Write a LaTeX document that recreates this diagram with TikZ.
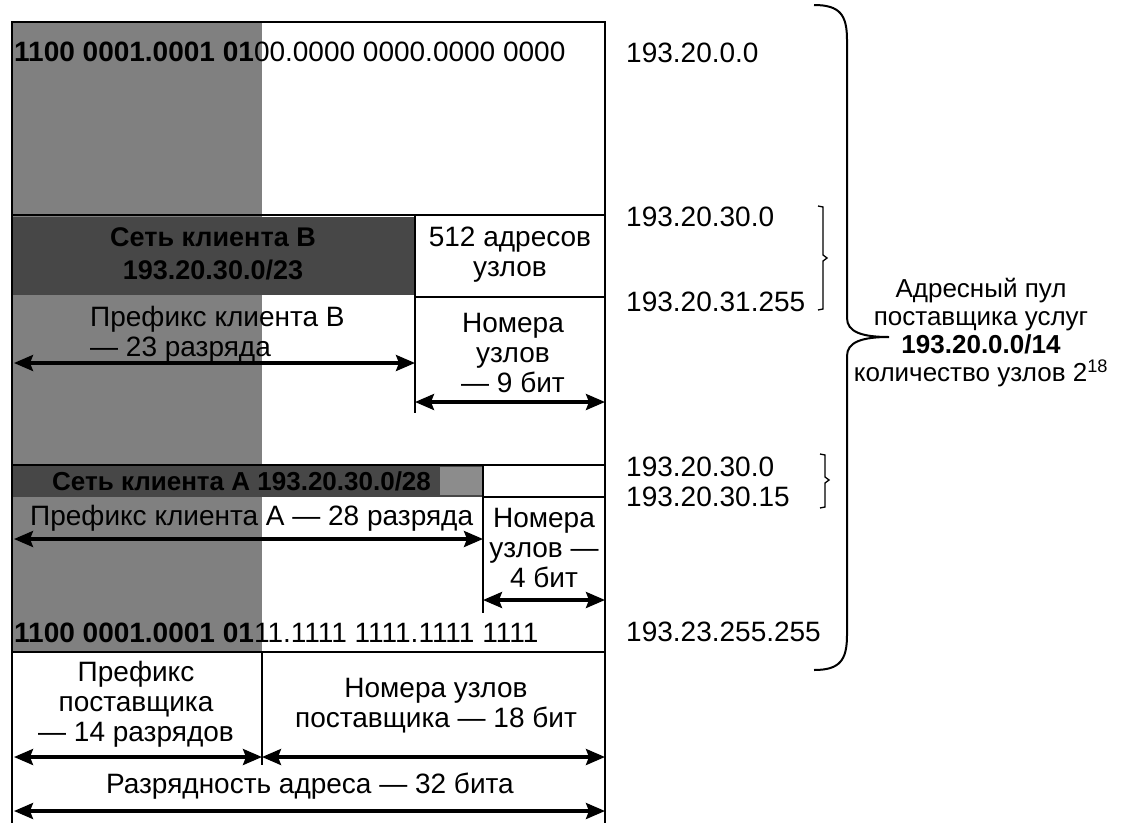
\documentclass[tikz,border=0pt]{standalone}
\usepackage{fontspec}
\setmainfont{Liberation Sans}
\usetikzlibrary{arrows.meta}
\begin{document}
\begin{tikzpicture}[x=1pt,y=-1pt,
  lbl/.style={inner sep=0pt, align=center, font=\fontsize{28}{30}\selectfont},
  frame/.style={line width=1.8pt, line cap=rect},
  dim/.style={line width=3.2pt, {Stealth[length=19pt,width=16pt,inset=3pt]}-{Stealth[length=19pt,width=16pt,inset=3pt]}},
  brc/.style={line width=2pt},
  sbrc/.style={line width=1.3pt},
]
\useasboundingbox (0,0) rectangle (1147,822);
\fill[white] (0,0) rectangle (1147,822);
% shaded areas
\fill[black!50] (12,22) rectangle (262,652);
\fill[black!72] (12,217) rectangle (415,295);
\fill[black!72] (12,465) rectangle (483,497);
\fill[black!45] (440,467) rectangle (483,495);
% frame lines
\draw[frame] (12,822) -- (12,22) -- (605,22) -- (605,822);
\draw[frame] (12,215) -- (605,215);
\draw[frame] (415,215) -- (415,412);
\draw[frame] (415,297) -- (605,297);
\draw[frame] (12,465) -- (605,465);
\draw[frame] (483,465) -- (483,612);
\draw[frame] (483,497) -- (605,497);
\draw[frame] (12,652) -- (605,652);
\draw[line width=1.3pt] (262,652) -- (262,765);
% dimension end points
\coordinate (bpL) at (14,363);  \coordinate (bpR) at (415,363);
\coordinate (bhL) at (415,402); \coordinate (bhR) at (605,402);
\coordinate (apL) at (14,539);  \coordinate (apR) at (483,539);
\coordinate (ahL) at (483,600); \coordinate (ahR) at (605,600);
\coordinate (ppL) at (14,757);  \coordinate (ppR) at (262,757);
\coordinate (phL) at (262,757); \coordinate (phR) at (605,757);
\coordinate (tL) at (14,811);   \coordinate (tR) at (605,811);
\draw[dim] (bpL) -- (bpR);
\draw[dim] (bhL) -- (bhR);
\draw[dim] (apL) -- (apR);
\draw[dim] (ahL) -- (ahR);
\draw[dim] (ppL) -- (ppR);
\draw[dim] (phL) -- (phR);
\draw[dim] (tL) -- (tR);
% texts in the table
\node[lbl, anchor=west] (topbits) at (14,52) {\textbf{1100 0001.0001 01}00.0000 0000.0000 0000};
\node[lbl, anchor=west] (botbits) at (14,633) {\textbf{1100 0001.0001 01}11.1111 1111.1111 1111};
\node[lbl, font=\fontsize{27}{30}\selectfont\bfseries] (netB) at (213,254) {Сеть клиента B\\[3pt]193.20.30.0/23};
\node[lbl] (b512) at (510,255) {512 адресов\\узлов};
\node[lbl, align=left, anchor=west] (prefB) at (90,334) {Префикс клиента B\\— 23 разряда};
\node[lbl] (hostB) at (513,353) {Номера\\узлов\\— 9 бит};
\node[lbl, anchor=west, font=\fontsize{26}{30}\selectfont\bfseries] (netA) at (52,481) {Сеть клиента А 193.20.30.0/28};
\node[lbl, anchor=west] (prefA) at (30,518) {Префикс клиента А — 28 разряда};
\node[lbl] (hostA) at (544,548) {Номера\\узлов —\\4 бит};
\node[lbl] (provP) at (136,704) {Префикс\\поставщика\\— 14 разрядов};
\node[lbl] (provH) at (436,706) {Номера узлов\\поставщика — 18 бит};
\node[lbl] (total) at (310,786) {Разрядность адреса — 32 бита};
% right addresses
\node[lbl, anchor=west] (a1) at (626,53) {193.20.0.0};
\node[lbl, anchor=west] (a2) at (626,217) {193.20.30.0};
\node[lbl, anchor=west] (a3) at (626,302) {193.20.31.255};
\node[lbl, anchor=west] (a4) at (626,467) {193.20.30.0};
\node[lbl, anchor=west] (a5) at (626,497) {193.20.30.15};
\node[lbl, anchor=west] (a6) at (626,632) {193.23.255.255};
% small braces
\draw[sbrc] (818,206) -- (823,207) -- (823,255) -- (827,258) -- (823,261) -- (823,309) -- (818,310);
\draw[sbrc] (820,454) -- (825,455) -- (825,477) -- (829,480) -- (825,483) -- (825,507) -- (820,508);
% big brace
\draw[brc] (814,5) .. controls (840,5) and (847,15) .. (847,40) -- (847,318)
  .. controls (847,332) and (862,337) .. (889,337)
  .. controls (862,337) and (847,342) .. (847,356) -- (847,635)
  .. controls (847,660) and (840,670) .. (814,670);
% pool description
\node[lbl, font=\fontsize{26}{28}\selectfont] (pool) at (981,333) {Адресный пул\\поставщика услуг\\\textbf{193.20.0.0/14}\\количество узлов 2\textsuperscript{18}};
\end{tikzpicture}
\end{document}
